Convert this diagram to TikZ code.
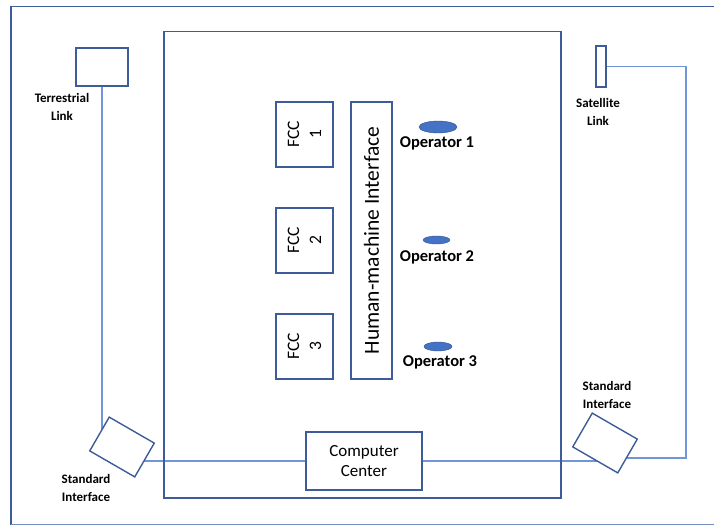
\documentclass[tikz,border=0pt]{standalone}
\usepackage{fontspec}
\setmainfont{Carlito}
\usetikzlibrary{shapes.geometric,backgrounds}

\definecolor{boxline}{HTML}{3E5C9A}
\definecolor{wire}{HTML}{7196D8}
\definecolor{opblue}{HTML}{4472C4}

\begin{document}
\begin{tikzpicture}[x=1pt, y=-1pt,
    box/.style={draw=boxline, line width=1.4pt, fill=white, inner sep=0pt},
    ifacebox/.style={box, minimum width=52pt, minimum height=39pt},
    fccbox/.style={box, rotate=90, minimum width=65pt, minimum height=57pt,
      align=center, font=\fontsize{17.5}{22}\selectfont},
    operator/.style={ellipse, fill=opblue, draw=opblue!70!black, line width=0.4pt, inner sep=0pt},
    oplabel/.style={font=\fontsize{16.5}{19}\selectfont\bfseries},
    linklabel/.style={align=center, font=\fontsize{13}{18}\selectfont\bfseries},
    wireline/.style={draw=wire, line width=1.3pt},
  ]
    \useasboundingbox (0,0) rectangle (714,526);
    % outer frame (open on the right)
    \draw[boxline, line width=1.4pt] (714,6.5) -- (11,6.5) -- (11,524.5);
    \draw[wire!70!gray, line width=1.2pt] (11,524.5) -- (714,524.5);

    % site
    \node[draw=boxline, line width=1.4pt, minimum width=397pt, minimum height=466.5pt] (site) at (362.5,264.75) {};

    % links
    \node[box, minimum width=52pt, minimum height=38pt] (terr) at (102,67) {};
    \node[linklabel] (terrlbl) at (62,107) {Terrestrial\\Link};
    \node[box, minimum width=10pt, minimum height=41pt] (sat) at (601,66.5) {};
    \node[linklabel] (satlbl) at (598,111.5) {Satellite\\Link};

    % standard interfaces
    \node[ifacebox, rotate=-30] (stdL) at (122,447) {};
    \node[linklabel] (stdLlbl) at (86,488) {Standard\\Interface};
    \node[ifacebox, rotate=-30] (stdR) at (605,443) {};
    \node[linklabel] (stdRlbl) at (607,395) {Standard\\Interface};

    % computer center
    \node[box, minimum width=116pt, minimum height=58pt, align=center,
      font=\fontsize{17}{20}\selectfont] (cc) at (364,461) {Computer\\Center};

    % flight control computers
    \node[fccbox] (fcc1) at (304.5,134.5) {FCC\\1};
    \node[fccbox] (fcc2) at (304.5,240.5) {FCC\\2};
    \node[fccbox] (fcc3) at (304.5,346.5) {FCC\\3};

    % human-machine interface
    \node[box, rotate=90, minimum width=277pt, minimum height=41pt,
      font=\fontsize{21.5}{24}\selectfont] (hmi) at (371.5,240.5) {Human-machine Interface};

    % operators
    \node[operator, minimum width=38pt, minimum height=12pt] (op1) at (438,127) {};
    \node[oplabel] (op1lbl) at (437,143) {Operator 1};
    \node[operator, minimum width=27pt, minimum height=8pt] (op2) at (436.5,240) {};
    \node[oplabel] (op2lbl) at (437,257) {Operator 2};
    \node[operator, minimum width=28pt, minimum height=9pt] (op3) at (438,346.5) {};
    \node[oplabel] (op3lbl) at (440,362) {Operator 3};

    \coordinate (satcorner) at (686,458);

    \begin{scope}[on background layer]
      \draw[wireline] (terr.south) -- (terr.south |- stdL.center);
      \draw[wireline] (stdL.center |- cc.west) -- (cc.west);
      \draw[wireline] (cc.east) -- (stdR.center |- cc.east);
      \draw[wireline] (stdR.center |- satcorner) -- (satcorner) |- (sat.east);
    \end{scope}
\end{tikzpicture}
\end{document}
